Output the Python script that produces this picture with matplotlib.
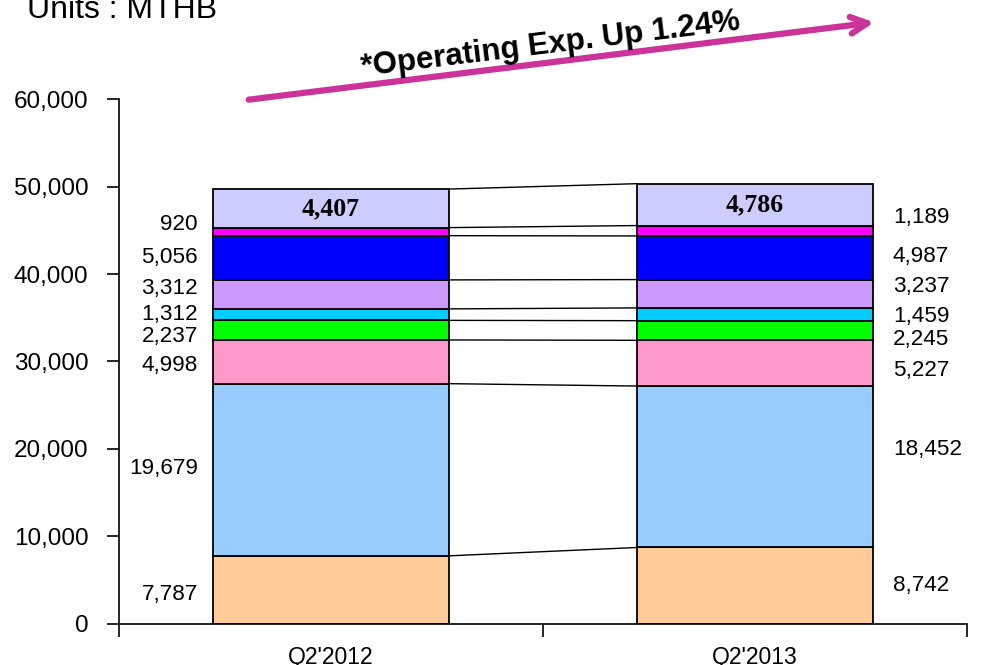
import matplotlib.pyplot as plt
import numpy as np
from matplotlib.ticker import FuncFormatter

plt.rcParams['font.family'] = ['Liberation Sans', 'DejaVu Sans']

quarters = ["Q2'2012", "Q2'2013"]
# stacked segments, bottom to top
q2_2012 = [7787, 19679, 4998, 2237, 1312, 3312, 5056, 920, 4407]
q2_2013 = [8742, 18452, 5227, 2245, 1459, 3237, 4987, 1189, 4786]
seg_colors = ['#FFCC99', '#99CCFF', '#FF99CC', '#00FF00', '#00CCFF',
              '#CC99FF', '#0000FF', '#FF00FF', '#CCCCFF']

# small vertical nudges so crowded labels don't collide
left_nudge = [-500, 200, -400, -700, 0, 700, 0, 800]
right_nudge = [0, 2000, -800, -1000, -300, 800, 150, 1500]

fig = plt.figure(figsize=(9.85, 6.65), dpi=100)
ax = fig.add_axes([0.1208, 0.0617, 0.8609, 0.7894])

w = 0.556
x = np.arange(len(quarters))
data = np.array([q2_2012, q2_2013])
bottoms = np.zeros(2)
for i, c in enumerate(seg_colors):
    ax.bar(x, data[:, i], w, bottom=bottoms, color=c, edgecolor='black',
           linewidth=1.3, zorder=2)
    bottoms = bottoms + data[:, i]

tops = np.cumsum(data, axis=1)
# connector lines between the bars
for j in range(tops.shape[1]):
    ax.plot([w / 2, 1 - w / 2], [tops[0, j], tops[1, j]], color='black', lw=1.0, zorder=1)

# value labels
starts = tops - data
mids = starts + data / 2
for j in range(8):
    ax.text(-w / 2 - 0.036, mids[0, j] + left_nudge[j], f'{q2_2012[j]:,}',
            ha='right', va='center', fontsize=16.2)
    ax.text(1 + w / 2 + 0.047, mids[1, j] + right_nudge[j], f'{q2_2013[j]:,}',
            ha='left', va='center', fontsize=16.2)
for k in range(2):
    ax.text(x[k], mids[k, 8], f'{data[k, 8]:,}', ha='center', va='center',
            fontsize=18.5, fontweight='bold', family='Liberation Serif')

ax.set_xlim(-0.5, 1.5)
ax.set_ylim(0, 60000)
ax.set_yticks(np.arange(0, 60001, 10000))
ax.yaxis.set_major_formatter(FuncFormatter(lambda v, p: f'{int(v):,}'))
ax.set_xticks(x)
ax.set_xticklabels(quarters)
ax.set_xticks([-0.5, 0.5, 1.5], minor=True)
ax.tick_params(axis='x', which='major', length=0, pad=16, labelsize=16.5)
ax.tick_params(axis='x', which='minor', length=9, width=1.2, direction='out')
ax.tick_params(axis='y', length=9, width=1.2, direction='out', pad=13, labelsize=17.5)
for s in ['top', 'right']:
    ax.spines[s].set_visible(False)
for s in ['left', 'bottom']:
    ax.spines[s].set_linewidth(1.2)

fig.text(0.027, 0.973, 'Units : MTHB', fontsize=23, ha='left', va='baseline')

# trend arrow with note
ax.annotate('', xy=(877 / 985, 1 - 22 / 665), xytext=(246 / 985, 1 - 100 / 665),
            xycoords='figure fraction', textcoords='figure fraction',
            arrowprops=dict(arrowstyle='->,head_length=1.2,head_width=0.6',
                            color='#CC3399', lw=4.5))
fig.text(0.559, 0.933, '*Operating Exp. Up 1.24%', fontsize=22.5, fontweight='bold',
         rotation=7, ha='center', va='center', rotation_mode='anchor')

fig.savefig('out.png', dpi=100)
